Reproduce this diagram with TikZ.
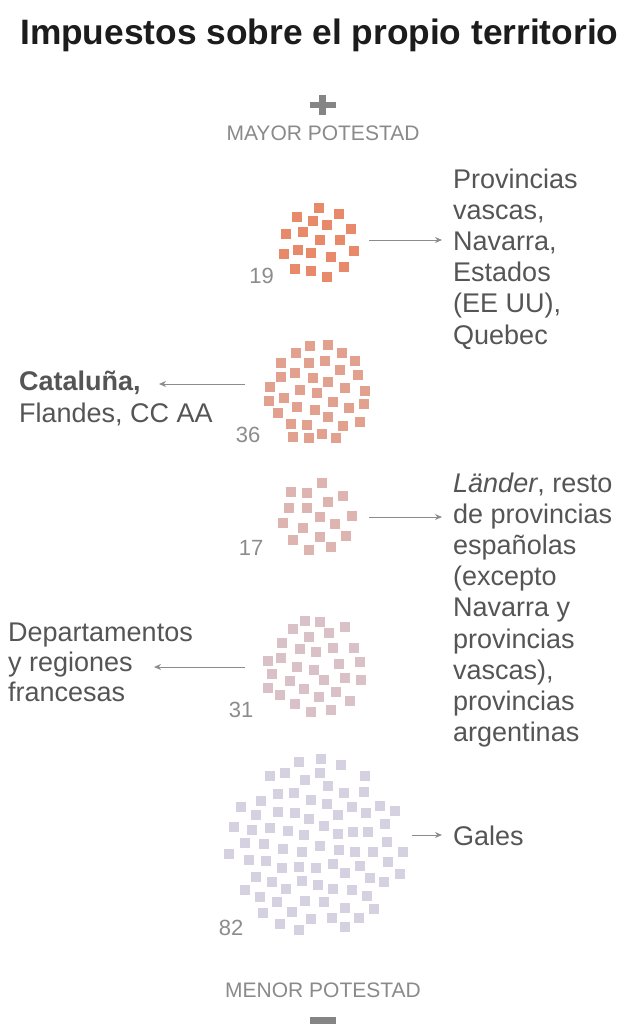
\documentclass[tikz,border=0pt]{standalone}
\usepackage{fontspec}
\setmainfont{Liberation Sans}
\usetikzlibrary{arrows.meta}
\definecolor{gA}{HTML}{E8896A}
\definecolor{gB}{HTML}{E2A18F}
\definecolor{gC}{HTML}{DDB4AF}
\definecolor{gD}{HTML}{D9C1C7}
\definecolor{gE}{HTML}{D6D1E1}
\definecolor{titlecol}{HTML}{1C1C1C}
\definecolor{labelgray}{HTML}{555555}
\definecolor{numgray}{HTML}{8C8C8C}
\definecolor{capgray}{HTML}{8A8A8A}
\definecolor{signgray}{HTML}{858585}
\definecolor{arrgray}{HTML}{8C8C8C}
\begin{document}
\begin{tikzpicture}[x=1pt,y=-1pt,
  titlestyle/.style={anchor=base west, inner sep=0, text=titlecol, font=\bfseries\fontsize{35.3}{40}\selectfont},
  capstyle/.style={anchor=base, inner sep=0, text=capgray, font=\fontsize{21}{24}\selectfont},
  lbl/.style={anchor=base west, inner sep=0, align=left, text=labelgray, font=\fontsize{27}{31.2}\selectfont},
  num/.style={anchor=base east, inner sep=0, text=numgray, font=\fontsize{22}{24}\selectfont},
  arr/.style={draw=arrgray, line width=1pt, -{Stealth[length=7pt,width=6pt]}}]
\fill[white] (0,0) rectangle (640,1030);
\useasboundingbox (0,0) rectangle (640,1030);

\node[titlestyle] (title) at (20,45) {Impuestos sobre el propio territorio};

% plus / minus signs
\fill[signgray] (309.5,101.7) rectangle (336,108.3);
\fill[signgray] (319.3,95) rectangle (326.2,115);
\node[capstyle] (mayor) at (323,140) {MAYOR POTESTAD};
\node[capstyle] (menor) at (323,997.7) {MENOR POTESTAD};
\fill[signgray] (309.5,1017.3) rectangle (336,1023.5);

% group 1 (19)
\foreach \x/\y in {319/208,339.3/214,297.3/217.3,313.3/221.3,327.3/225,350.7/229,285.7/234,303/231.7,320.3/239.7,340.3/239.7,298/250,311/252.7,283.7/254.3,353.7/251,331/257.3,295/269,311.3/271,343.7/267.3,326.7/276.7}
  \fill[gA] (\x-5,\y-5) rectangle ++(10,10);
% group 2 (36)
\foreach \x/\y in {310.3/346,328/345.3,295.7/352.7,342.3/352.7,280.7/363.3,309/362.7,325.3/361,355/361.3,281/377,295.3/373.3,340/369.7,313.3/377.7,358.3/375.3,327.7/382.3,270/386.7,299.7/390,317.3/392.7,345.3/387.7,364.7/390.7,284.3/397.7,269/401.3,333.3/402.3,297.3/406.7,315.3/409.7,348.7/408.3,363.7/404,278/413.3,328.3/416.7,290.7/424.3,306.7/425,343/426,359.7/421.7,293/437.3,309/438,322.3/434,336/437.7}
  \fill[gB] (\x-5,\y-5) rectangle ++(10,10);
% group 3 (17)
\foreach \x/\y in {322/483.3,291/491.7,307.3/492.7,343.3/496,328.3/502,288.7/508,307.3/507.7,320.3/517.3,352/516,283/523.3,302.7/527.7,334.7/523.7,292.7/540.3,320.3/537.3,346.3/536,309/550.3,331.3/547.3}
  \fill[gC] (\x-5,\y-5) rectangle ++(10,10);
% group 4 (31)
\foreach \x/\y in {305/620.7,320.3/621.7,293.3/629.3,328.7/633,344.7/627.3,308.7/636.7,282/643.3,300/649.3,316.3/651.7,332.7/647.7,353.7/648,268.3/660.7,281.3/658.3,297/667.3,313.7/669.7,339.3/663.7,359.7/662.3,272.3/674.3,289.7/680.7,324/679.7,345.3/678,360.7/680,268.3/688.3,280/694.7,304/689.3,319/697,336.3/692.3,349.7/700.7,295.3/704.3,310.7/711.7,331/710.3}
  \fill[gD] (\x-5,\y-5) rectangle ++(10,10);
% group 5 (82)
\foreach \x/\y in {299/762.3,321.3/759,341/765,270/775.7,285.3/772.7,304.7/779.7,320.3/773,365.3/775.7,327.7/786,277.7/793.7,294/792.7,343.7/793,363.7/792.3,261/801,310.7/800,326.7/803.7,241/807,351.7/807,380.3/805.7,394.7/810.7,256.3/815,278.3/812,295.3/812.7,308.7/818.7,338.3/815,366/813.3,385.3/824,234/827,252/830.3,270.3/828.3,288/831,303.7/835,323.7/826.3,338.3/834.3,352.7/832.3,368.3/832.3,244.7/843.3,263.7/844,283.3/849,301.7/851.7,320/846,338.7/849.7,355.3/851.7,372.7/851.7,387/842.3,402.7/852.3,229.3/854,249.3/860.3,265.7/861.3,282.3/868.3,299/867,316/867.7,332.7/863.7,359.7/865.7,387.7/862,256/877.3,271.7/882,301.7/881.3,318.3/884.7,345/873.3,369.7/877.7,384/881.7,399.7/873.7,244.7/890.3,259.7/897,286/889,333/888.7,351.7/890.3,276.7/901.7,304.7/900.7,323.7/902.3,367.3/896.3,263.3/912.7,292/912.3,345/908.3,374.3/909.3,280.3/923.7,310.7/918.7,332/917.7,359/917.7,299.3/930.3,344.7/927}
  \fill[gE] (\x-5,\y-5) rectangle ++(10,10);

% numbers
\node[num] (n19) at (274,283) {19};
\node[num] (n36) at (260.5,442) {36};
\node[num] (n17) at (263.5,555) {17};
\node[num] (n31) at (253.5,717) {31};
\node[num] (n82) at (243.5,935) {82};

% labels (anchor = baseline of the last line)
\node[lbl] (l1) at (453,344) {Provincias\\vascas,\\Navarra,\\Estados\\(EE UU),\\Quebec};
\node[lbl] (l2) at (19,422) {\textbf{Cataluña,}\\Flandes, CC AA};
\node[lbl] (l3) at (453,741.6) {\textit{Länder}, resto\\de provincias\\españolas\\(excepto\\Navarra y\\provincias\\vascas),\\provincias\\argentinas};
\node[lbl, font=\fontsize{27}{30}\selectfont] (l4) at (8,701) {Departamentos\\y regiones\\francesas};
\node[lbl] (l5) at (453,845) {Gales};

% arrows
\coordinate (a1s) at (369,240); \coordinate (a1e) at (442,240);
\coordinate (a2s) at (245,384); \coordinate (a2e) at (159,384);
\coordinate (a3s) at (369,517); \coordinate (a3e) at (442,517);
\coordinate (a4s) at (245,667); \coordinate (a4e) at (154,667);
\coordinate (a5s) at (412,835); \coordinate (a5e) at (442,835);
\draw[arr] (a1s) -- (a1e);
\draw[arr] (a2s) -- (a2e);
\draw[arr] (a3s) -- (a3e);
\draw[arr] (a4s) -- (a4e);
\draw[arr] (a5s) -- (a5e);
\end{tikzpicture}
\end{document}
